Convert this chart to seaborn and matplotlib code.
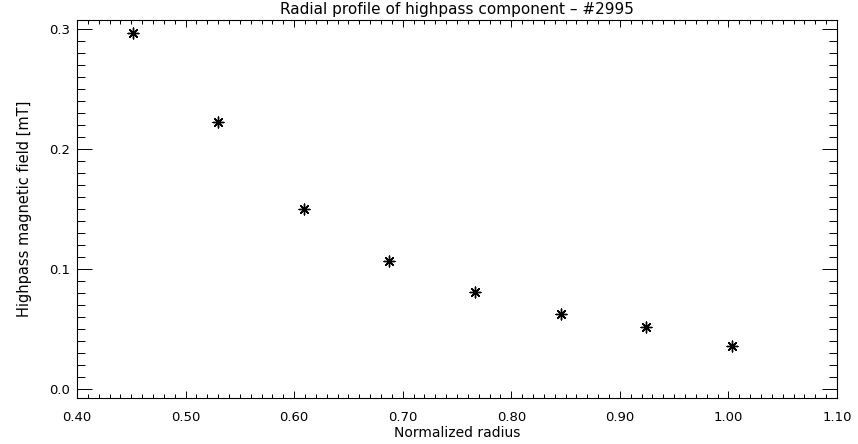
import matplotlib
matplotlib.use("Agg")
import matplotlib.pyplot as plt
from matplotlib.ticker import MultipleLocator, FormatStrFormatter
import seaborn as sns
import pandas as pd

# ---- data ----
radius = [0.452, 0.530, 0.609, 0.687, 0.767, 0.846, 0.924, 1.003]
field = [0.2967, 0.2225, 0.1500, 0.1067, 0.0808, 0.0625, 0.0517, 0.0358]

title = "Radial profile of highpass component \u2013 #2995"
xlabel = "Normalized radius"
ylabel = "Highpass magnetic field [mT]"

df = pd.DataFrame({"radius": radius, "field": field})

sns.set_theme(style="ticks")
plt.rcParams["font.family"] = ["DejaVu Sans"]
plt.rcParams["axes.linewidth"] = 0.8
plt.rcParams["text.color"] = "black"
plt.rcParams["axes.labelcolor"] = "black"
plt.rcParams["xtick.color"] = "black"
plt.rcParams["ytick.color"] = "black"

fig = plt.figure(figsize=(8.58, 4.44), dpi=100)
fig.patch.set_facecolor("white")
ax = fig.add_axes([77 / 858, 46 / 444, 760 / 858, 377.5 / 444])
ax.set_facecolor("white")

sns.scatterplot(data=df, x="radius", y="field", ax=ax, marker=(8, 2, 0),
                s=60, color="black", edgecolor="black", linewidth=1.0,
                legend=False)

ax.set_xlim(0.40, 1.10)
ax.set_ylim(-0.0075, 0.3075)

ax.xaxis.set_major_locator(MultipleLocator(0.10))
ax.xaxis.set_minor_locator(MultipleLocator(0.01))
ax.yaxis.set_major_locator(MultipleLocator(0.1))
ax.yaxis.set_minor_locator(MultipleLocator(0.01))
ax.xaxis.set_major_formatter(FormatStrFormatter("%.2f"))
ax.yaxis.set_major_formatter(FormatStrFormatter("%.1f"))

for side in ["top", "right", "left", "bottom"]:
    ax.spines[side].set_visible(True)
    ax.spines[side].set_color("black")
    ax.spines[side].set_linewidth(0.8)

ax.tick_params(axis="both", which="both", direction="in", colors="black",
               width=0.7, top=True, right=True, labelsize=9.5)
ax.tick_params(axis="x", which="major", length=5.2, pad=9)
ax.tick_params(axis="x", which="minor", length=2.9)
ax.tick_params(axis="y", which="major", length=10.8, pad=5)
ax.tick_params(axis="y", which="minor", length=5.8)

ax.set_xlabel(xlabel, fontsize=10, labelpad=2, color="black")
ax.set_ylabel(ylabel, fontsize=10.5, labelpad=12, color="black")
ax.set_title(title, fontsize=11, pad=5, color="black")

fig.savefig("out.png", dpi=100, facecolor="white")
